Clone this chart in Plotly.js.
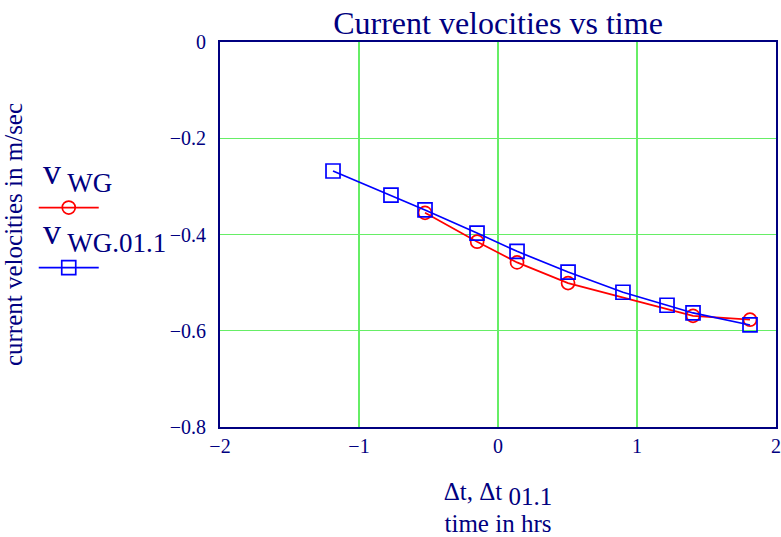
<!DOCTYPE html>
<html>
<head>
<meta charset="utf-8">
<script src="https://cdn.plot.ly/plotly-3.0.1.min.js"></script>
<style>html,body{margin:0;padding:0;background:#fff;}#chart{width:781px;height:537px;}</style>
</head>
<body>
<div id="chart"></div>
<script>
// Series vWG (red circles)
var tWG = [-0.525, -0.15, 0.137, 0.504, 1.403, 1.813];
var vWG = [-0.355, -0.415, -0.458, -0.501, -0.569, -0.577];
// Series vWG.01.1 (blue squares)
var tWG011 = [-1.187, -0.77, -0.525, -0.151, 0.137, 0.504, 0.899, 1.216, 1.403, 1.813];
var vWG011 = [-0.268, -0.318, -0.349, -0.397, -0.435, -0.478, -0.520, -0.547, -0.563, -0.588];
// Tick values
var xTicks = [-2, -1, 0, 1, 2];
var yTicks = [0, -0.2, -0.4, -0.6, -0.8];

var navy = '#000080';
var serif = 'Liberation Serif, Times New Roman, serif';

var traces = [
  {x: tWG, y: vWG, mode: 'lines+markers', name: ' ', legend: 'legend',
   line: {color: '#ff0000', width: 1.7},
   marker: {symbol: 'circle-open', size: 13, color: '#ff0000', line: {width: 1.7}}},
  {x: tWG011, y: vWG011, mode: 'lines+markers', name: ' ', legend: 'legend2',
   line: {color: '#0000ff', width: 1.7},
   marker: {symbol: 'square-open', size: 14, color: '#0000ff', line: {width: 1.7}}}
];

var layout = {
  width: 781, height: 537,
  margin: {l: 220, r: 5, t: 42, b: 110},
  paper_bgcolor: '#fff', plot_bgcolor: '#fff',
  font: {family: serif, color: navy, size: 17},
  title: {text: 'Current velocities vs time', font: {family: serif, size: 32, color: navy},
          x: 0.5, xref: 'paper', y: 0.958, yanchor: 'middle'},
  xaxis: {range: [-2, 2], tickvals: xTicks, tickformat: 'd',
          showgrid: true, gridcolor: '#66ee66', gridwidth: 1.2, zeroline: false,
          showline: true, linecolor: navy, linewidth: 2, mirror: true, ticks: '',
          tickfont: {family: serif, size: 20, color: navy},
          title: {text: 'Δt, Δt<sub><span style="font-size:25px"> 01.1</span></sub><br>time in hrs', font: {family: serif, size: 25, color: navy}, standoff: 26}},
  yaxis: {range: [-0.8, 0], tickvals: yTicks, tickformat: '.1~f',
          showgrid: true, gridcolor: '#66ee66', gridwidth: 1.2, zeroline: false,
          showline: true, linecolor: navy, linewidth: 2, mirror: true, ticks: '',
          ticklabelstandoff: 8,
          tickfont: {family: serif, size: 20, color: navy},
          title: {text: 'current velocities in m/sec', font: {family: serif, size: 25, color: navy}, standoff: 160}},
  showlegend: true,
  legend: {x: -0.335, y: 0.569, xanchor: 'left', yanchor: 'middle', bgcolor: 'rgba(0,0,0,0)',
           font: {size: 14}, itemwidth: 60},
  legend2: {x: -0.335, y: 0.413, xanchor: 'left', yanchor: 'middle', bgcolor: 'rgba(0,0,0,0)',
            font: {size: 14}, itemwidth: 60},
  annotations: [
    {xref: 'paper', yref: 'paper', x: -0.322, y: 0.655, xanchor: 'left', yanchor: 'middle', showarrow: false,
     text: 'v<sub><span style="font-size:27px"> WG</span></sub>', font: {family: serif, size: 36, color: navy}},
    {xref: 'paper', yref: 'paper', x: -0.322, y: 0.5, xanchor: 'left', yanchor: 'middle', showarrow: false,
     text: 'v<sub><span style="font-size:27px"> WG.01.1</span></sub>', font: {family: serif, size: 36, color: navy}}
  ]
};

Plotly.newPlot('chart', traces, layout, {displayModeBar: false, staticPlot: true});
</script>
</body>
</html>
